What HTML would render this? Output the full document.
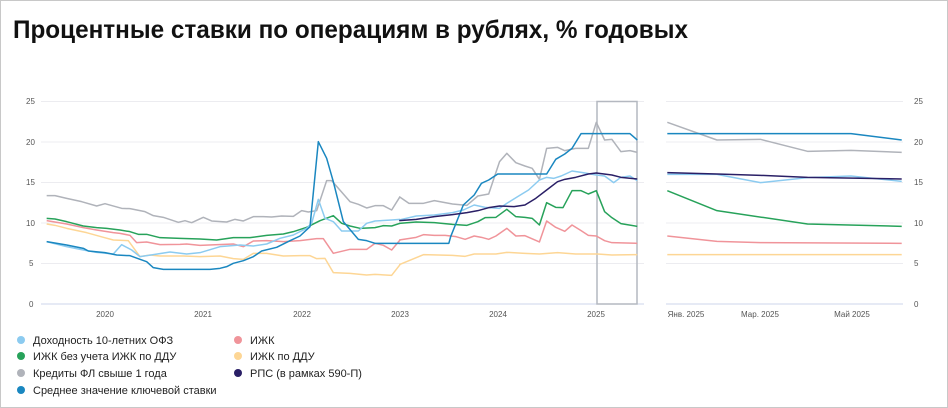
<!DOCTYPE html>
<html><head><meta charset="utf-8"><style>
html,body{margin:0;padding:0;background:#fff;}
svg{display:block;font-family:"Liberation Sans",sans-serif;}
</style></head><body>
<svg width="948" height="408" viewBox="0 0 948 408" xmlns="http://www.w3.org/2000/svg">
<rect x="0.5" y="0.5" width="947" height="407" fill="#fff" stroke="#c8c8c8"/>
<text x="13" y="38" font-family="'Liberation Sans Narrow','Liberation Sans',sans-serif" font-weight="bold" font-size="25" fill="#111" textLength="675" lengthAdjust="spacingAndGlyphs">Процентные ставки по операциям в рублях, % годовых</text>
<g stroke="#ececf0" stroke-width="1">
<line x1="41" x2="644" y1="101.5" y2="101.5"/><line x1="41" x2="644" y1="142" y2="142"/><line x1="41" x2="644" y1="182.5" y2="182.5"/><line x1="41" x2="644" y1="223" y2="223"/><line x1="41" x2="644" y1="263.5" y2="263.5"/>
<line x1="666" x2="903" y1="101.5" y2="101.5"/><line x1="666" x2="903" y1="142" y2="142"/><line x1="666" x2="903" y1="182.5" y2="182.5"/><line x1="666" x2="903" y1="223" y2="223"/><line x1="666" x2="903" y1="263.5" y2="263.5"/>
</g>
<line x1="41" x2="644" y1="304" y2="304" stroke="#ccd6eb"/>
<line x1="666" x2="903" y1="304" y2="304" stroke="#ccd6eb"/>
<g font-size="8" fill="#555">
<text x="26" y="104">25</text><text x="26" y="145">20</text><text x="26" y="185">15</text><text x="26" y="226">10</text><text x="29" y="266">5</text><text x="29" y="307">0</text>
<text x="914" y="104">25</text><text x="914" y="145">20</text><text x="914" y="185">15</text><text x="914" y="226">10</text><text x="914" y="266">5</text><text x="914" y="307">0</text>
<text x="105" y="317" text-anchor="middle">2020</text><text x="203" y="317" text-anchor="middle">2021</text><text x="302" y="317" text-anchor="middle">2022</text><text x="400" y="317" text-anchor="middle">2023</text><text x="498" y="317" text-anchor="middle">2024</text><text x="596" y="317" text-anchor="middle">2025</text>
<text x="686" y="317" text-anchor="middle">Янв. 2025</text><text x="760" y="317" text-anchor="middle">Мар. 2025</text><text x="852" y="317" text-anchor="middle">Май 2025</text>
</g>
<rect x="597" y="101.5" width="40" height="202.5" fill="none" stroke="#b4b8c0" stroke-width="1.5"/>
<g fill="none" stroke-width="1.5" stroke-linejoin="round">
<g transform="translate(0,90) scale(0.33333)">
<polyline vector-effect="non-scaling-stroke" stroke="#b0b3ba" points="140,317 165,317 200,325 245,335 290,348 315,341 365,355 390,356 435,365 460,377 490,382 535,397 555,392 575,398 610,382 635,393 680,396 705,388 730,393 760,380 790,380 815,381 845,378 880,379 905,362 925,366 950,362 980,272 995,272 1050,335 1075,343 1100,354 1125,347 1150,347 1175,360 1200,320"/>
<polyline vector-effect="non-scaling-stroke" stroke="#fdd695" points="140,402 165,406 200,415 260,428 310,442 340,450 385,452 420,500 450,495 480,498 550,498 600,500 660,498 700,506 730,508 760,490 800,490 850,498 900,497 930,497 950,506 975,505 1000,548 1050,550 1100,555 1125,553 1175,556 1200,524"/>
<polyline vector-effect="non-scaling-stroke" stroke="#f0949a" points="140,392 200,402 250,413 290,420 340,428 360,430 390,436 410,458 440,456 480,464 540,463 560,462 600,466 700,462 730,470 760,453 800,452 850,455 900,452 950,446 970,446 1000,490 1050,478 1100,478 1125,460 1150,466 1175,480 1200,450"/>
<polyline vector-effect="non-scaling-stroke" stroke="#27a25a" points="140,385 165,387 200,395 250,408 290,413 320,415 360,420 390,425 415,433 440,433 480,443 540,445 600,447 650,450 700,443 750,443 800,436 850,432 880,425 920,412 960,392 1000,377 1025,400 1050,408 1080,415 1125,413 1150,407 1175,408 1200,400"/>
<polyline vector-effect="non-scaling-stroke" stroke="#8ccbf0" points="140,455 200,470 250,480 290,487 340,492 365,464 395,480 420,500 460,494 510,486 560,492 600,488 660,470 720,465 760,468 800,462 840,445 880,435 920,415 935,400 955,328 975,385 1000,395 1025,423 1075,423 1100,400 1125,393 1175,390 1200,388"/>
<polyline vector-effect="non-scaling-stroke" stroke="#1a87c0" points="140,455 200,465 250,475 265,483 315,488 350,495 390,497 420,508 440,515 460,533 490,538 630,538 660,535 680,530 700,520 730,512 760,500 785,483 830,472 870,452 900,438 930,410 955,155 980,205 1000,275 1030,395 1075,448 1100,452 1125,460 1200,460"/>
</g>
<g transform="translate(380,90) scale(0.3623,0.33333)">
<polyline vector-effect="non-scaling-stroke" stroke="#b0b3ba" points="53,320 80,340 120,340 150,332 200,342 240,346 270,318 300,312 330,215 350,190 375,218 400,228 420,235 440,268 460,175 490,172 510,182 540,175 575,175 597,97 620,150 640,148 665,185 690,182 710,187"/>
<polyline vector-effect="non-scaling-stroke" stroke="#b0b3ba" points="793,97 930,150 1050,148 1180,184 1300,181 1440,187"/>
<polyline vector-effect="non-scaling-stroke" stroke="#fdd695" points="53,524 120,494 200,496 235,499 260,492 320,492 350,487 400,490 440,492 490,488 540,492 600,492 640,495 710,494"/>
<polyline vector-effect="non-scaling-stroke" stroke="#fdd695" points="793,494 1440,494"/>
<polyline vector-effect="non-scaling-stroke" stroke="#f0949a" points="53,450 100,442 120,434 150,436 180,436 210,440 235,448 260,438 280,442 300,448 320,438 350,415 375,438 400,437 440,456 460,393 485,412 510,424 530,405 555,422 575,436 597,438 620,452 640,458 710,460"/>
<polyline vector-effect="non-scaling-stroke" stroke="#f0949a" points="793,438 930,454 1050,458 1440,460"/>
<polyline vector-effect="non-scaling-stroke" stroke="#27a25a" points="53,400 100,396 150,398 200,403 240,406 270,395 290,383 320,382 350,358 375,380 400,382 420,385 440,405 460,338 485,352 505,353 530,302 555,302 575,312 597,302 620,365 640,383 665,401 710,409"/>
<polyline vector-effect="non-scaling-stroke" stroke="#27a25a" points="793,302 930,362 1180,402 1440,409"/>
<polyline vector-effect="non-scaling-stroke" stroke="#8ccbf0" points="53,390 100,378 150,375 200,368 230,360 260,345 290,352 330,355 350,340 380,320 410,300 440,270 460,262 480,265 500,258 530,243 560,248 597,255 620,258 645,278 665,262 690,258 710,272"/>
<polyline vector-effect="non-scaling-stroke" stroke="#8ccbf0" points="793,253 930,253 1050,278 1180,263 1300,258 1440,274"/>
<polyline vector-effect="non-scaling-stroke" stroke="#1a87c0" points="53,460 190,460 195,440 230,345 260,315 280,280 300,270 325,252 460,252 485,208 510,192 530,175 555,131 597,131 690,131 710,150"/>
<polyline vector-effect="non-scaling-stroke" stroke="#1a87c0" points="793,131 1300,131 1440,150"/>
<polyline vector-effect="non-scaling-stroke" stroke="#2a1f66" points="53,392 100,388 150,380 200,374 240,368 270,362 300,353 330,348 370,350 400,345 430,325 460,300 490,275 510,268 540,262 575,252 597,249 640,255 665,262 710,267"/>
<polyline vector-effect="non-scaling-stroke" stroke="#2a1f66" points="793,248 930,252 1050,256 1180,262 1440,267"/>
</g>
</g>
<g font-size="11" fill="#222">
<circle cx="21" cy="340" r="4" fill="#8ccbf0"/><text x="33" y="344">Доходность 10-летних ОФЗ</text>
<circle cx="21" cy="356" r="4" fill="#27a25a"/><text x="33" y="360">ИЖК без учета ИЖК по ДДУ</text>
<circle cx="21" cy="373" r="4" fill="#b0b3ba"/><text x="33" y="377">Кредиты ФЛ свыше 1 года</text>
<circle cx="21" cy="390" r="4" fill="#1a87c0"/><text x="33" y="394">Среднее значение ключевой ставки</text>
<circle cx="238" cy="340" r="4" fill="#f0949a"/><text x="250" y="344">ИЖК</text>
<circle cx="238" cy="356" r="4" fill="#fdd695"/><text x="250" y="360">ИЖК по ДДУ</text>
<circle cx="238" cy="373" r="4" fill="#2a1f66"/><text x="250" y="377">РПС (в рамках 590-П)</text>
</g>
</svg>
</body></html>
